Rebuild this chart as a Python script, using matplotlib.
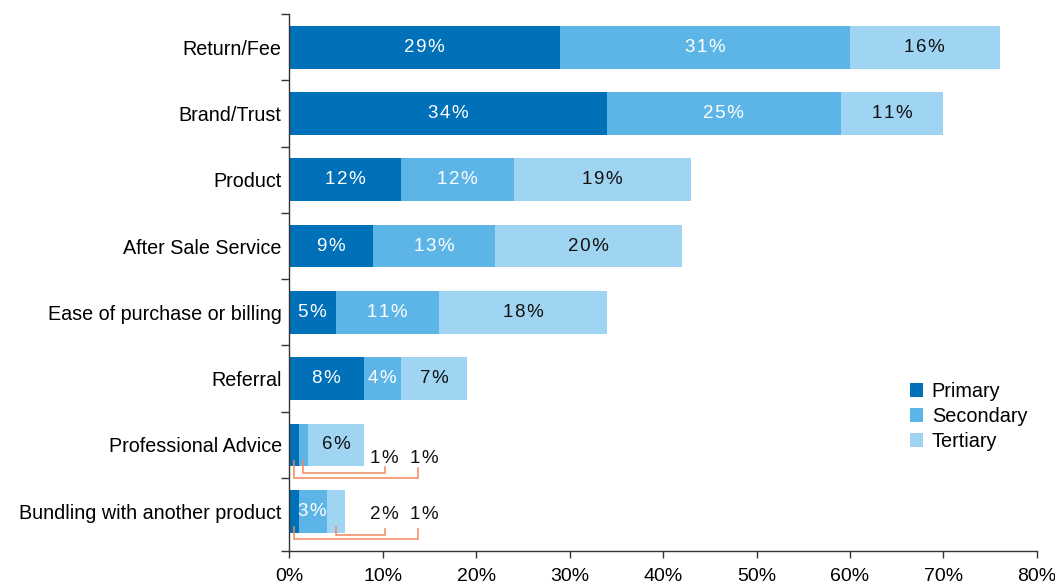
import matplotlib.pyplot as plt
from matplotlib.ticker import FixedLocator

plt.rcParams['font.family'] = ['Liberation Sans', 'DejaVu Sans']

categories = ["Return/Fee", "Brand/Trust", "Product", "After Sale Service",
              "Ease of purchase or billing", "Referral", "Professional Advice",
              "Bundling with another product"]
primary = [29, 34, 12, 9, 5, 8, 1, 1]
secondary = [31, 25, 12, 13, 11, 4, 1, 3]
tertiary = [16, 11, 19, 20, 18, 7, 6, 2]
series_names = ["Primary", "Secondary", "Tertiary"]
x_ticks = [0, 10, 20, 30, 40, 50, 60, 70, 80]

colors = ["#0070b8", "#5cb5e6", "#9fd5f2"]
text_colors = ["white", "white", "#111111"]
bracket_color = "#f4875c"

# small values shown outside the bar: (row, series, label x, label dy, bracket bottom dy, bracket end dy)
callouts = [
    (6, 1, 10.2, 0.20, 0.42, 0.33),
    (6, 0, 14.5, 0.20, 0.50, 0.35),
    (7, 2, 10.2, 0.05, 0.36, 0.27),
    (7, 0, 14.5, 0.05, 0.42, 0.27),
]
bracket_x = {10.2: 10.2, 14.5: 13.8}


def pct(v):
    # the labels in the original are set with a little letter spacing
    return "\u200a".join(f"{v}%")


fig = plt.figure(figsize=(10.55, 5.86), dpi=100)
ax = fig.add_axes([0.2742, 0.0597, 0.9829 - 0.2742, 0.9761 - 0.0597])

data = [primary, secondary, tertiary]
ypos = list(range(len(categories)))
left = [0] * len(categories)
outside = {(c[0], c[1]) for c in callouts}
for s, vals in enumerate(data):
    ax.barh(ypos, vals, left=left, height=0.645, color=colors[s],
            label=series_names[s], zorder=2)
    for i, v in enumerate(vals):
        if (i, s) not in outside:
            ax.text(left[i] + v / 2, i, pct(v), ha="center", va="center",
                    color=text_colors[s], fontsize=13.5, zorder=3)
    left = [l + v for l, v in zip(left, vals)]

for row, s, lx, ldy, bdy, edy in callouts:
    start = sum(d[row] for d in data[:s])
    mid = start + data[s][row] / 2
    bx = bracket_x[lx]
    ax.plot([mid, mid, bx, bx], [row + 0.24, row + bdy, row + bdy, row + edy],
            color=bracket_color, lw=1.1, zorder=3, solid_joinstyle="miter")
    ax.text(lx, row + ldy, pct(data[s][row]), ha="center", va="center",
            color="#111111", fontsize=13.5, zorder=3)

ax.set_xlim(0, 80)
ax.set_ylim(7.6, -0.5)
ax.set_xticks(x_ticks)
ax.set_xticklabels([f"{t}%" for t in x_ticks], fontsize=14)
ax.set_yticks(ypos)
ax.set_yticklabels(categories, fontsize=14.2)
ax.tick_params(axis="y", which="major", length=0, pad=5.5)
ax.yaxis.set_minor_locator(FixedLocator([i - 0.5 for i in range(8)] + [7.6]))
ax.tick_params(axis="y", which="minor", length=6, width=1, color="#333333")
ax.tick_params(axis="x", length=5, width=1, color="#333333", pad=7)
for side in ["top", "right"]:
    ax.spines[side].set_visible(False)
for side in ["left", "bottom"]:
    ax.spines[side].set_color("#333333")
    ax.spines[side].set_linewidth(1)

ax.legend(loc="upper left", bbox_to_anchor=(910 / 1055, 1 - 382 / 586),
          bbox_transform=fig.transFigure, frameon=False, fontsize=14.3,
          handlelength=0.65, handleheight=0.65, handletextpad=0.45,
          labelspacing=0.3, borderaxespad=0, borderpad=0)

fig.savefig("out.png", dpi=100)
